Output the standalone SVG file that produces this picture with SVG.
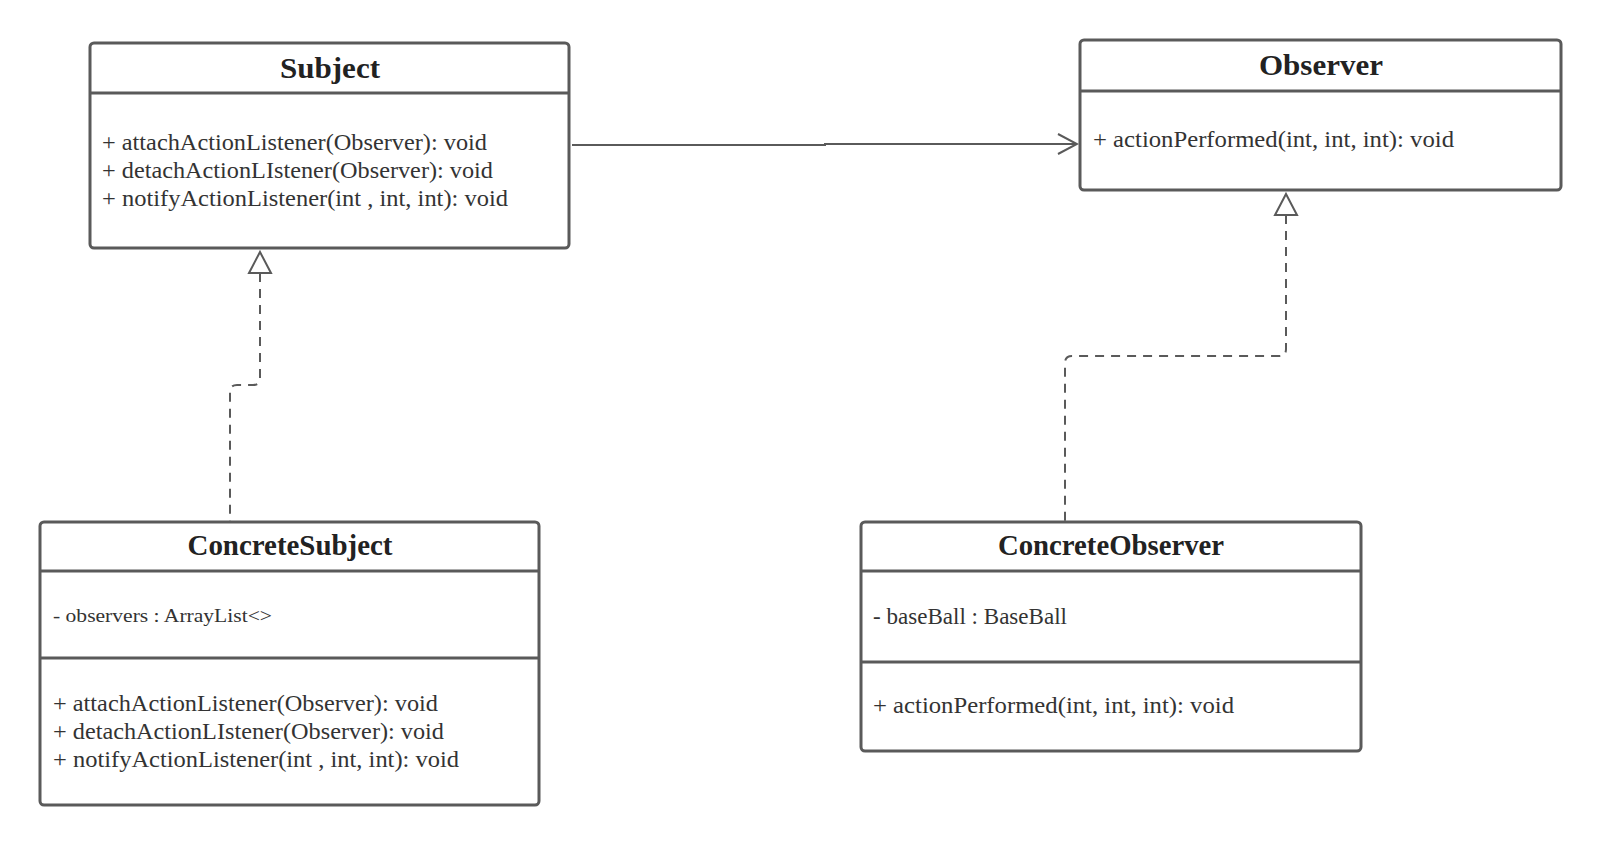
<svg xmlns="http://www.w3.org/2000/svg" width="1600" height="846" viewBox="0 0 1600 846">
<style>
.box{fill:#fff;stroke:#5a5a5a;stroke-width:3}
.sep{stroke:#5a5a5a;stroke-width:3;fill:none}
.title{font-family:"Liberation Serif",serif;font-weight:bold;font-size:30px;fill:#222;text-anchor:middle}
.t{font-family:"Liberation Serif",serif;font-size:22.5px;fill:#333}
.s{font-family:"Liberation Serif",serif;font-size:19.5px;fill:#333}
.line{stroke:#5a5a5a;stroke-width:2;fill:none}
.dash{stroke:#5a5a5a;stroke-width:2;fill:none;stroke-dasharray:9 7}
</style>
<defs>
<marker id="open" markerWidth="22" markerHeight="24" refX="20" refY="11" orient="auto" markerUnits="userSpaceOnUse" viewBox="0 0 22 22">
<path d="M1,1 L20,11 L1,21" fill="none" stroke="#5a5a5a" stroke-width="2"/>
</marker>
</defs>
<rect width="1600" height="846" fill="#fff"/>
<g id="connectors">
<path class="line" d="M572,145 L825,145 L825,144 L1077,144" marker-end="url(#open)"/>
<path d="M260,252 L271,273 L249,273 Z" fill="#fff" stroke="#5a5a5a" stroke-width="2"/>
<path class="dash" d="M260,273 L260,378 Q260,385 253,385 L237,385 Q230,385 230,392 L230,522"/>
<path d="M1286,194 L1297,215 L1275,215 Z" fill="#fff" stroke="#5a5a5a" stroke-width="2"/>
<path class="dash" d="M1286,215 L1286,349 Q1286,356 1279,356 L1072,356 Q1065,356 1065,363 L1065,522"/>
</g>
<g id="Subject">
<rect class="box" x="90" y="43" width="479" height="205" rx="4"/>
<line class="sep" x1="90" y1="93" x2="569" y2="93"/>
<text class="title" x="330" y="78" textLength="100" lengthAdjust="spacingAndGlyphs">Subject</text>
<text class="t" x="102" y="150" textLength="385" lengthAdjust="spacingAndGlyphs">+ attachActionListener(Observer): void</text>
<text class="t" x="102" y="178" textLength="391" lengthAdjust="spacingAndGlyphs">+ detachActionLIstener(Observer): void</text>
<text class="t" x="102" y="206" textLength="406" lengthAdjust="spacingAndGlyphs">+ notifyActionListener(int , int, int): void</text>
</g>
<g id="Observer">
<rect class="box" x="1080" y="40" width="481" height="150" rx="4"/>
<line class="sep" x1="1080" y1="91" x2="1561" y2="91"/>
<text class="title" x="1321" y="75" textLength="124" lengthAdjust="spacingAndGlyphs">Observer</text>
<text class="t" x="1093" y="147" textLength="361" lengthAdjust="spacingAndGlyphs">+ actionPerformed(int, int, int): void</text>
</g>
<g id="ConcreteSubject">
<rect class="box" x="40" y="522" width="499" height="283" rx="4"/>
<line class="sep" x1="40" y1="571" x2="539" y2="571"/>
<line class="sep" x1="40" y1="658" x2="539" y2="658"/>
<text class="title" x="290" y="555" textLength="205" lengthAdjust="spacingAndGlyphs">ConcreteSubject</text>
<text class="s" x="53" y="622" textLength="219" lengthAdjust="spacingAndGlyphs">- observers : ArrayList&lt;&gt;</text>
<text class="t" x="53" y="711" textLength="385" lengthAdjust="spacingAndGlyphs">+ attachActionListener(Observer): void</text>
<text class="t" x="53" y="739" textLength="391" lengthAdjust="spacingAndGlyphs">+ detachActionLIstener(Observer): void</text>
<text class="t" x="53" y="767" textLength="406" lengthAdjust="spacingAndGlyphs">+ notifyActionListener(int , int, int): void</text>
</g>
<g id="ConcreteObserver">
<rect class="box" x="861" y="522" width="500" height="229" rx="4"/>
<line class="sep" x1="861" y1="571" x2="1361" y2="571"/>
<line class="sep" x1="861" y1="662" x2="1361" y2="662"/>
<text class="title" x="1111" y="555" textLength="226" lengthAdjust="spacingAndGlyphs">ConcreteObserver</text>
<text class="t" x="873" y="624" textLength="194" lengthAdjust="spacingAndGlyphs">- baseBall : BaseBall</text>
<text class="t" x="873" y="713" textLength="361" lengthAdjust="spacingAndGlyphs">+ actionPerformed(int, int, int): void</text>
</g>
</svg>
